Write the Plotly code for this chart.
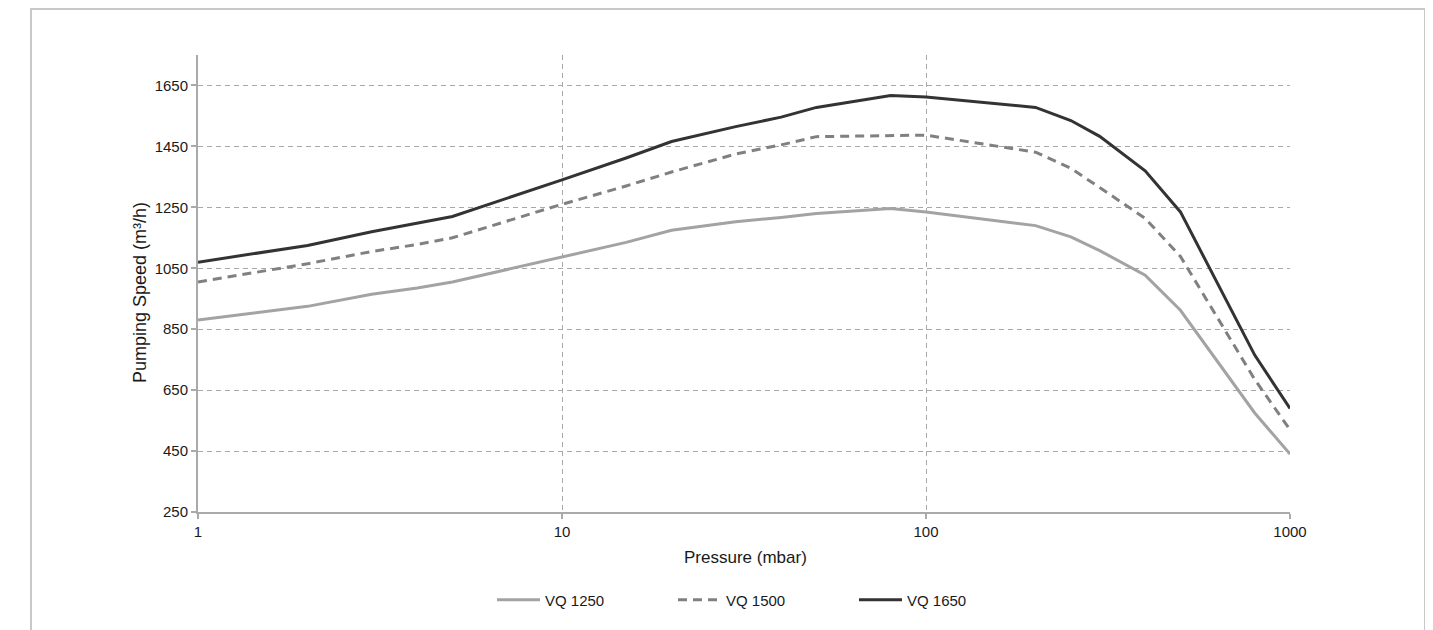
import plotly.graph_objects as go

pressure = [1, 1.5, 2, 3, 4, 5, 10, 15, 20, 30, 40, 50, 80, 100, 200, 250, 300, 400, 500, 800, 1000]
vq1250 = [880, 905, 925, 965, 985, 1005, 1087, 1135, 1175, 1203, 1217, 1230, 1246, 1235, 1190, 1153, 1108, 1027, 912, 575, 440]
vq1500 = [1005, 1040, 1065, 1105, 1128, 1150, 1260, 1320, 1366, 1425, 1455, 1482, 1487, 1487, 1431, 1378, 1315, 1214, 1089, 685, 520]
vq1650 = [1070, 1103, 1125, 1170, 1198, 1220, 1340, 1412, 1466, 1515, 1546, 1578, 1617, 1612, 1578, 1535, 1483, 1370, 1235, 765, 590]

x_ticks = [1, 10, 100, 1000]
x_ticktext = ["1", "10", "100", "1000"]
y_ticks = [250, 450, 650, 850, 1050, 1250, 1450, 1650]

FONT = "Liberation Sans, Arial, sans-serif"

fig = go.Figure()
fig.add_trace(go.Scatter(x=pressure, y=vq1250, mode="lines", name="VQ 1250",
                         line=dict(color="#a3a3a3", width=3)))
fig.add_trace(go.Scatter(x=pressure, y=vq1500, mode="lines", name="VQ 1500",
                         line=dict(color="#808080", width=3, dash="9px,6px")))
fig.add_trace(go.Scatter(x=pressure, y=vq1650, mode="lines", name="VQ 1650",
                         line=dict(color="#333333", width=3)))

OFF = 8  # page body margin
L, R, T, B = 198, 1290, 55, 512   # target page coordinates of plot area
W, H = 1433 - OFF, 630 - OFF
pw, ph = R - L, B - T

def px(xp):
    return (xp - L) / pw

def py(yp):
    return (B - yp) / ph

fig.update_layout(
    width=W, height=H,
    margin=dict(l=L - OFF, r=W - (R - OFF), t=T - OFF, b=H - (B - OFF), pad=0),
    paper_bgcolor="white", plot_bgcolor="white",
    font=dict(family=FONT, color="#1a1a1a", size=14),
    showlegend=True,
    legend=dict(orientation="h", x=px(492), xanchor="left", y=py(600), yanchor="middle",
                font=dict(size=15, color="#1a1a1a"), entrywidth=123, itemwidth=43,
                bgcolor="rgba(0,0,0,0)"),
    xaxis=dict(type="log", range=[0, 3], tickvals=x_ticks, ticktext=x_ticktext,
               showgrid=True, gridcolor="#a8a8a8", griddash="5px,4px", gridwidth=1.3,
               showline=True, linecolor="#aaaaaa", linewidth=2,
               ticks="outside", ticklen=5, tickcolor="#aaaaaa", tickwidth=2,
               tickfont=dict(size=15, color="#1a1a1a"), zeroline=False),
    yaxis=dict(range=[250, 1750], tickvals=y_ticks,
               showgrid=True, gridcolor="#a8a8a8", griddash="5px,4px", gridwidth=1.3,
               showline=True, linecolor="#aaaaaa", linewidth=2,
               ticks="outside", ticklen=5, tickcolor="#aaaaaa", tickwidth=2,
               tickfont=dict(size=15, color="#1a1a1a"), zeroline=False),
    shapes=[
        dict(type="rect", xref="paper", yref="paper",
             x0=px(31), x1=px(1425), y0=py(680), y1=py(9),
             line=dict(color="#c8c8c8", width=2), fillcolor="rgba(0,0,0,0)", layer="below"),
    ],
    annotations=[
        dict(text="Pressure (mbar)", xref="paper", yref="paper", x=px(745), y=py(557),
             xanchor="center", yanchor="middle", showarrow=False,
             font=dict(size=17, color="#1a1a1a")),
        dict(text="Pumping Speed (m³/h)", xref="paper", yref="paper", x=px(140), y=py(293),
             xanchor="center", yanchor="middle", showarrow=False, textangle=-90,
             font=dict(size=18, color="#1a1a1a")),
    ],
)

fig.write_html("out.html")
